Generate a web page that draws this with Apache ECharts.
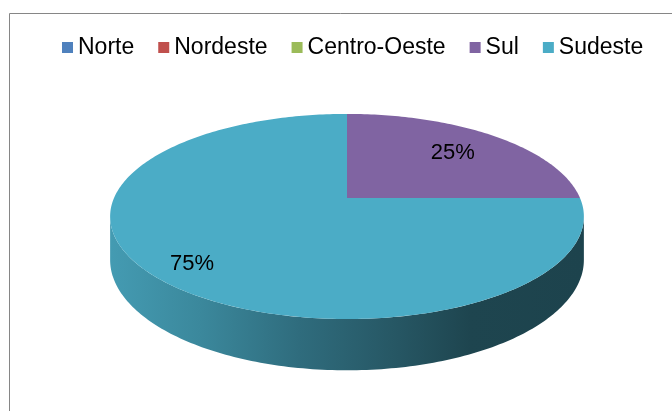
<!DOCTYPE html>
<html>
<head>
<meta charset="utf-8">
<title>Regiões</title>
<script src="https://cdn.jsdelivr.net/npm/echarts@6/dist/echarts.min.js"></script>
<style>
  html, body { margin: 0; padding: 0; background: #fff; }
  #chart { width: 672px; height: 411px; }
</style>
</head>
<body>
<div id="chart"></div>
<script>
const regioes = ['Norte', 'Nordeste', 'Centro-Oeste', 'Sul', 'Sudeste']
const valores = [0, 0, 0, 25, 75]
const cores = ['#4F81BD', '#C0504D', '#9BBB59', '#8064A2', '#4BACC6']
// distancia do rotulo ao centro (fracao do raio)
const raioRotulo = [0.7, 0.7, 0.7, 0.7, 0.84]

const total = valores.reduce((a, b) => a + b, 0)
const acumulado = valores.map((v, i) => valores.slice(0, i).reduce((a, b) => a + b, 0))

// pizza 3d "fake": elipse com perspectiva
const CX = 347, CY = 198, R = 233, INCL = 0.426, D = 5.55, ALT = 42
const SIL = Math.asin(1 / D) * 180 / Math.PI // angulo da silhueta lateral
const visLo = -180 + SIL, visHi = -SIL

function proj(graus, r, z) {
  const t = graus * Math.PI / 180
  const u = r * Math.cos(t), v = -r * Math.sin(t)
  const s = D / (D - v)
  return [CX + R * u * s, CY + (R * INCL * v + z) * s]
}

function arco(a, b, z) {
  const n = Math.max(2, Math.ceil(Math.abs(b - a)))
  const pts = []
  for (let k = 0; k <= n; k++) pts.push(proj(a + (b - a) * k / n, 1, z))
  return pts
}

function escurecer(cor, f) {
  const h = cor.replace('#', '')
  const c = [0, 2, 4].map(k => Math.round(parseInt(h.substr(k, 2), 16) * f))
  return 'rgb(' + c.join(',') + ')'
}

function gradiente(cor) {
  return {
    type: 'linear', x: 110, y: 0, x2: 584, y2: 0, global: true,
    colorStops: [
      { offset: 0, color: escurecer(cor, 0.9) },
      { offset: 0.19, color: escurecer(cor, 0.79) },
      { offset: 0.4, color: escurecer(cor, 0.63) },
      { offset: 0.61, color: escurecer(cor, 0.5) },
      { offset: 0.76, color: escurecer(cor, 0.4) },
      { offset: 1, color: escurecer(cor, 0.39) }
    ]
  }
}

function renderItem(params, api) {
  const i = params.seriesIndex
  const val = api.value(0)
  if (!val) return { type: 'group', children: [] }
  const ini = 90 - 360 * acumulado[i] / total
  const fim = ini - 360 * val / total
  const cor = cores[i]
  const filhos = []
  // lateral
  for (const k of [-360, 0, 360]) {
    const lo = Math.max(fim, visLo + k), hi = Math.min(ini, visHi + k)
    if (lo < hi) {
      filhos.push({
        type: 'polygon',
        shape: { points: arco(hi, lo, 0).concat(arco(lo, hi, ALT)) },
        style: { fill: gradiente(cor) }
      })
    }
  }
  // topo
  filhos.push({
    type: 'polygon',
    shape: { points: [proj(0, 0, 0)].concat(arco(ini, fim, 0)) },
    style: { fill: api.visual('color') }
  })
  const p = proj((ini + fim) / 2, raioRotulo[i], 0)
  filhos.push({
    type: 'text', x: p[0], y: p[1],
    style: {
      text: Math.round(val / total * 100) + '%',
      fill: '#000', fontSize: 22, fontFamily: '"Liberation Sans", Arial, sans-serif',
      align: 'center', verticalAlign: 'middle'
    }
  })
  return { type: 'group', children: filhos }
}

const chart = echarts.init(document.getElementById('chart'))
chart.setOption({
  animation: false,
  color: cores,
  graphic: [{
    type: 'polyline',
    shape: { points: [[9.5, 411], [9.5, 13.5], [672, 13.5]] },
    style: { stroke: '#868686', lineWidth: 1, fill: null }
  }],
  legend: {
    data: regioes,
    left: 57,
    top: 31,
    icon: 'rect',
    itemWidth: 11,
    itemHeight: 11,
    itemGap: 24,
    selectedMode: false,
    textStyle: { fontFamily: '"Liberation Sans", Arial, sans-serif', fontSize: 23, color: '#000' }
  },
  series: regioes.map((nome, i) => ({
    type: 'custom',
    name: nome,
    coordinateSystem: 'none',
    silent: true,
    renderItem: renderItem,
    data: [[valores[i]]]
  }))
})
</script>
</body>
</html>
